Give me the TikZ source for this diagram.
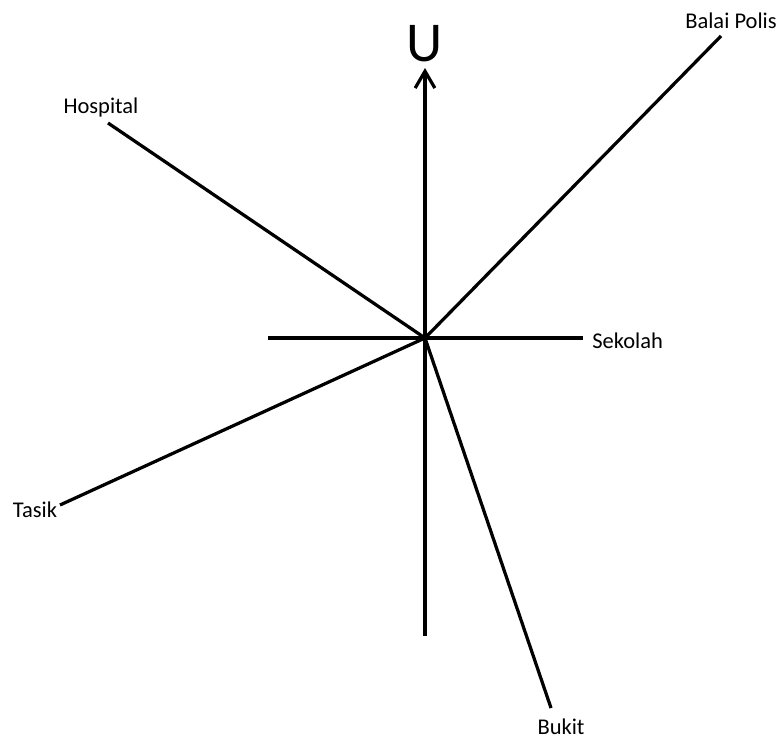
\documentclass[tikz,border=0pt]{standalone}
\usepackage{fontspec}
\setmainfont{Carlito}
\usetikzlibrary{arrows.meta}

\begin{document}
\begin{tikzpicture}[x=0.025cm,y=-0.025cm]
\tikzset{garis/.style={line width=2.3pt},
  label/.style={font=\fontsize{16}{19}\selectfont,inner sep=0pt}}
\useasboundingbox (0,0) rectangle (780,743);
% pusat dan hujung garis
\coordinate (O) at (425,338);
\coordinate (N) at (425,68);
\coordinate (S) at (425,636);
\coordinate (W) at (268,338);
\coordinate (E) at (583,338);
\coordinate (BP) at (721,36);
\coordinate (H) at (108,123);
\coordinate (T) at (60,505);
\coordinate (B) at (551,708);
% label
\node[inner sep=0pt,font=\fontsize{40}{48}\selectfont] (utara) at (425,44) {U};
\node[label,anchor=west] (sekolah) at (592,341) {Sekolah};
\node[label] (balai) at (731,21) {Balai Polis};
\node[label] (hospital) at (101,108) {Hospital};
\node[label] (tasik) at (35,510) {Tasik};
\node[label] (bukit) at (561,727) {Bukit};
% garisan
\draw[garis,-{Straight Barb[length=12pt,width=14pt,line width=2.3pt]}] (S) -- (N);
\draw[garis] (W) -- (E);
\draw[garis] (O) -- (BP);
\draw[garis] (O) -- (H);
\draw[garis] (O) -- (T);
\draw[garis] (O) -- (B);
\end{tikzpicture}
\end{document}
